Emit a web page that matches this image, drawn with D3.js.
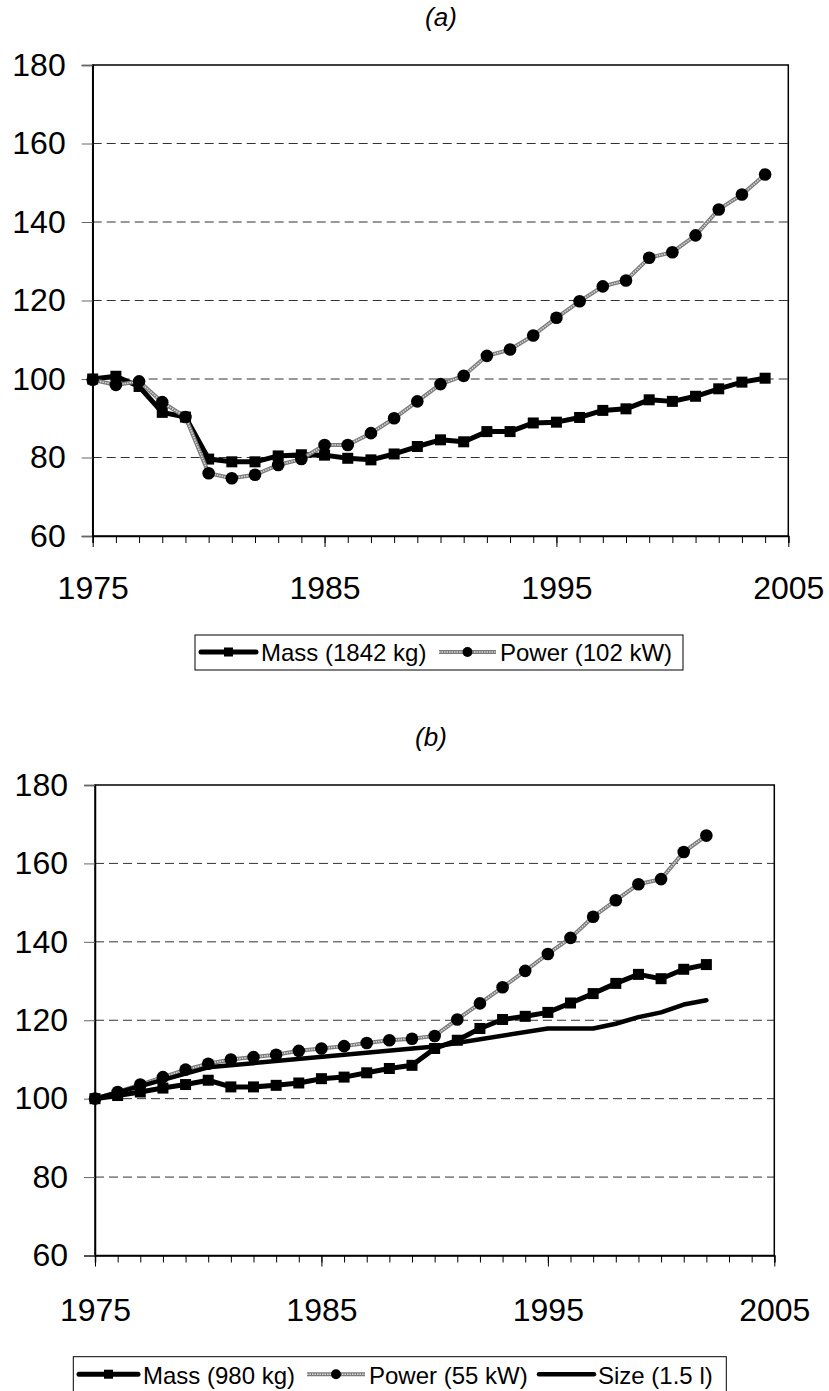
<!doctype html>
<html lang="en">
<head>
  <meta charset="utf-8">
  <title>Mass and power index</title>
  <script src="https://d3js.org/d3.v7.min.js"></script>
  <style>
    body { margin: 0; background: #fff; font-family: 'Liberation Sans', Arial, sans-serif; }
    svg text { font-family: 'Liberation Sans', Arial, sans-serif; fill: #000; }
  </style>
</head>
<body>
<svg id="chart" width="829" height="1391"></svg>
<script>
// panel (a)
const yearsA = d3.range(1975, 2005);
const massA = [100, 100.7, 98.1, 91.5, 90.3, 79.6, 78.9, 78.9, 80.4, 80.7,
  80.6, 79.8, 79.4, 80.9, 82.8, 84.5, 84.0, 86.6, 86.6, 88.8,
  89.0, 90.2, 92.0, 92.4, 94.7, 94.3, 95.6, 97.5, 99.2, 100.2];
const powerA = [99.8, 98.5, 99.4, 94.1, 90.3, 76.0, 74.7, 75.6, 78.1, 79.6,
  83.2, 83.2, 86.2, 90.0, 94.3, 98.7, 100.8, 105.9, 107.5, 111.1,
  115.6, 119.8, 123.6, 125.1, 130.9, 132.3, 136.6, 143.2, 147.0, 152.1];

// panel (b)
const yearsB = d3.range(1975, 2003);
const massB = [100, 100.8, 101.7, 102.7, 103.6, 104.7, 103.0, 103.0, 103.4, 104.0,
  105.1, 105.5, 106.6, 107.7, 108.5, 112.8, 114.9, 117.9, 120.2, 121.0,
  122.0, 124.4, 126.8, 129.4, 131.7, 130.6, 133.0, 134.2];
const powerB = [100, 101.7, 103.6, 105.5, 107.4, 108.9, 110.0, 110.6, 111.2, 112.2,
  112.8, 113.4, 114.2, 114.9, 115.3, 116.0, 120.2, 124.3, 128.4, 132.6,
  136.9, 141.0, 146.4, 150.6, 154.7, 156.0, 162.9, 167.1];
const sizeYearsB = [1975, 1980, 1990, 1995, 1997, 1998, 1999, 2000, 2001, 2002];
const sizeB = [100, 108, 113.3, 117.9, 117.9, 119.1, 120.8, 122.0, 124.0, 125.1];

const yTicks = [60, 80, 100, 120, 140, 160, 180];
const xTickLabels = [1975, 1985, 1995, 2005];

const svg = d3.select("#chart");

function drawPanel(p) {
  const x = d3.scaleLinear().domain([1975, 2005]).range([p.left, p.right]);
  const y = d3.scaleLinear().domain([60, 180]).range([p.bottom, p.top]);
  const g = svg.append("g");

  g.append("text")
    .attr("x", p.titleX).attr("y", p.titleY)
    .attr("text-anchor", "middle")
    .style("font-size", "26px").style("font-style", "italic")
    .text(p.title);

  // dashed gridlines
  g.selectAll("line.grid")
    .data(yTicks.filter(v => v > 60 && v < 180))
    .enter().append("line")
    .attr("class", "grid")
    .attr("x1", p.left).attr("x2", p.right)
    .attr("y1", d => y(d)).attr("y2", d => y(d))
    .attr("stroke", "#333").attr("stroke-width", 1)
    .attr("stroke-dasharray", "9,5");

  // frame
  g.append("rect")
    .attr("x", p.left).attr("y", p.top)
    .attr("width", p.right - p.left).attr("height", p.bottom - p.top)
    .attr("fill", "none").attr("stroke", "#000").attr("stroke-width", 1.5);

  // y axis
  const yAxis = d3.axisLeft(y).tickValues(yTicks).tickSize(11).tickPadding(16);
  const ya = g.append("g").attr("transform", `translate(${p.left},0)`).call(yAxis);
  ya.select(".domain").attr("stroke", "#000").attr("stroke-width", 1.5);
  ya.selectAll(".tick line").attr("stroke", "#666");
  ya.selectAll(".tick text").style("font-size", "32px").attr("fill", "#000");

  // x axis: minor ticks each year, major every ten
  const xMinor = d3.axisBottom(x).tickValues(d3.range(1975, 2006)).tickSize(7).tickFormat("");
  const xm = g.append("g").attr("transform", `translate(0,${p.bottom})`).call(xMinor);
  xm.select(".domain").attr("stroke", "#000").attr("stroke-width", 1.5);
  xm.selectAll(".tick line").attr("stroke", "#000");

  const xMajor = d3.axisBottom(x).tickValues(xTickLabels).tickSize(11)
    .tickPadding(p.xPad).tickFormat(d3.format("d"));
  const xM = g.append("g").attr("transform", `translate(0,${p.bottom})`).call(xMajor);
  xM.select(".domain").remove();
  xM.selectAll(".tick line").attr("stroke", "#000");
  xM.selectAll(".tick text").style("font-size", "32px").attr("fill", "#000");

  const line = d3.line().x(d => x(d[0])).y(d => y(d[1]));

  p.series.forEach(s => {
    const pts = s.years.map((yr, i) => [yr, s.values[i]]);
    drawSeries(g, s.style, pts.map(d => [x(d[0]), y(d[1])]), line(pts));
  });

  // legend
  const lg = g.append("g");
  lg.append("rect")
    .attr("x", p.legend.x).attr("y", p.legend.y)
    .attr("width", p.legend.w).attr("height", p.legend.h)
    .attr("fill", "#fff").attr("stroke", "#000").attr("stroke-width", 1);
  p.series.forEach((s, i) => {
    const it = p.legend.items[i];
    const ly = p.legend.y + p.legend.lineDy;
    drawSeries(lg, s.style, [[(it.x0 + it.x1) / 2, ly]], `M${it.x0},${ly}L${it.x1},${ly}`, true);
    lg.append("text")
      .attr("x", it.tx).attr("y", p.legend.y + p.legend.textDy)
      .style("font-size", "24px")
      .text(s.name);
  });
}

function drawSeries(g, style, pts, path, legend) {
  if (style === "power") {
    g.append("path").attr("d", path).attr("fill", "none")
      .attr("stroke", "#7a7a7a").attr("stroke-width", 4);
    g.append("path").attr("d", path).attr("fill", "none")
      .attr("stroke", "#d8d8d8").attr("stroke-width", 1.6)
      .attr("stroke-dasharray", "1.5,1");
    g.selectAll(null).data(pts).enter().append("circle")
      .attr("cx", d => d[0]).attr("cy", d => d[1])
      .attr("r", legend ? 5 : 6.3).attr("fill", "#000");
  } else if (style === "mass") {
    g.append("path").attr("d", path).attr("fill", "none")
      .attr("stroke", "#000").attr("stroke-width", 5)
      .attr("stroke-linejoin", "round").attr("stroke-linecap", "round");
    const s = legend ? 9 : 11;
    g.selectAll(null).data(pts).enter().append("rect")
      .attr("x", d => d[0] - s / 2).attr("y", d => d[1] - s / 2)
      .attr("width", s).attr("height", s).attr("fill", "#000");
  } else {
    g.append("path").attr("d", path).attr("fill", "none")
      .attr("stroke", "#000").attr("stroke-width", 4.5)
      .attr("stroke-linejoin", "round").attr("stroke-linecap", "round");
  }
}

drawPanel({
  title: "(a)", titleX: 441, titleY: 26,
  left: 92.7, right: 788.3, top: 65, bottom: 536, xPad: 29,
  series: [
    { name: "Mass (1842 kg)", style: "mass", years: yearsA, values: massA },
    { name: "Power (102 kW)", style: "power", years: yearsA, values: powerA }
  ],
  legend: { x: 195, y: 635, w: 488, h: 35, lineDy: 17, textDy: 26,
    items: [ { x0: 201, x1: 256, tx: 261 }, { x0: 439, x1: 496, tx: 500 } ] }
});

drawPanel({
  title: "(b)", titleX: 431, titleY: 746,
  left: 95, right: 774.3, top: 785, bottom: 1255.5, xPad: 32,
  series: [
    { name: "Mass (980 kg)", style: "mass", years: yearsB, values: massB },
    { name: "Power (55 kW)", style: "power", years: yearsB, values: powerB },
    { name: "Size (1.5 l)", style: "size", years: sizeYearsB, values: sizeB }
  ],
  legend: { x: 73.3, y: 1356.7, w: 653, h: 35, lineDy: 17.5, textDy: 27,
    items: [ { x0: 79, x1: 138, tx: 143 }, { x0: 307, x1: 365, tx: 369 }, { x0: 539, x1: 594, tx: 598 } ] }
});
</script>
</body>
</html>
